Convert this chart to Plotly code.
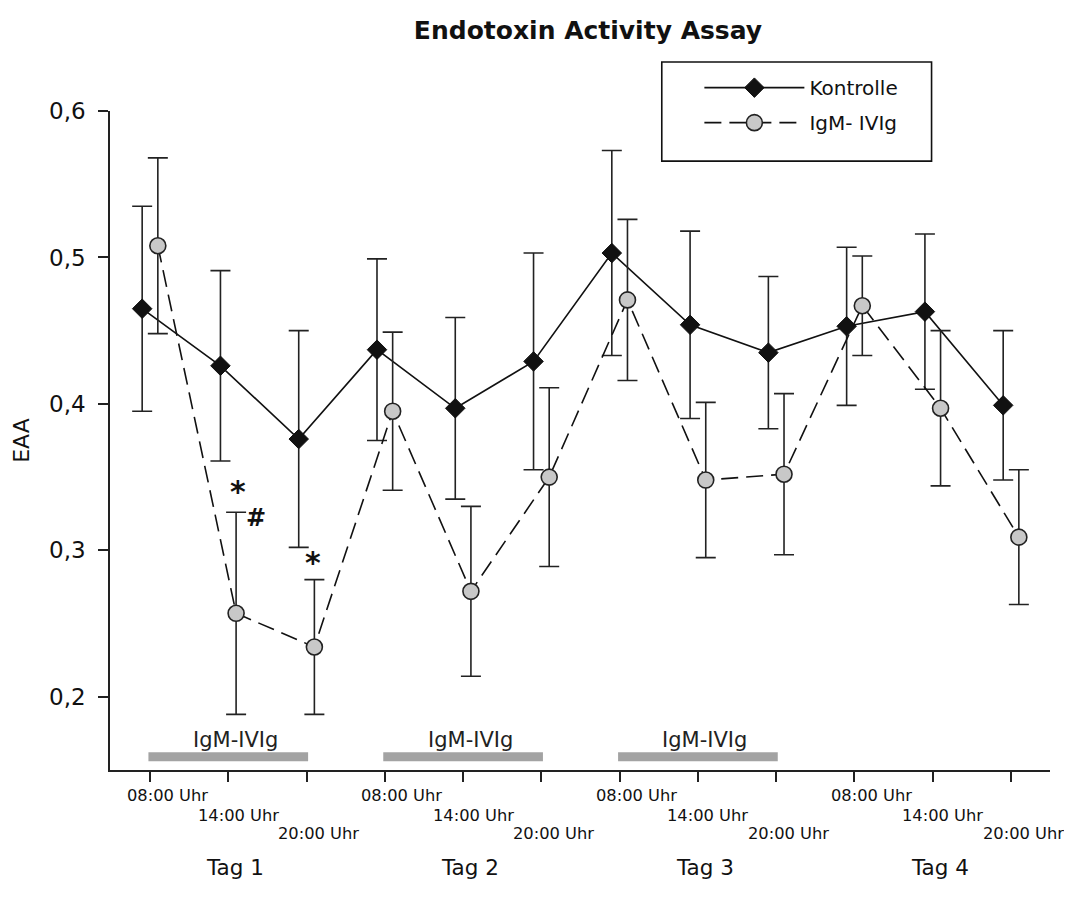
import plotly.graph_objects as go

# ---------------- data ----------------
times = ["08:00 Uhr", "14:00 Uhr", "20:00 Uhr"]
days = ["Tag 1", "Tag 2", "Tag 3", "Tag 4"]
treatment_days = [0, 1, 2]          # days with IgM-IVIg infusion
treatment_label = "IgM-IVIg"

kontrolle = [0.465, 0.426, 0.376, 0.437, 0.397, 0.429, 0.503, 0.454, 0.435, 0.453, 0.463, 0.399]
kontrolle_err = [0.070, 0.065, 0.074, 0.062, 0.062, 0.074, 0.070, 0.064, 0.052, 0.054, 0.053, 0.051]
igm = [0.508, 0.257, 0.234, 0.395, 0.272, 0.350, 0.471, 0.348, 0.352, 0.467, 0.397, 0.309]
igm_err = [0.060, 0.069, 0.046, 0.054, 0.058, 0.061, 0.055, 0.053, 0.055, 0.034, 0.053, 0.046]

# significance markers: (text, x position in time-index units, y value)
sig_marks = [("*", 1.13, 0.340), ("#", 1.35, 0.322), ("*", 2.08, 0.292)]

# ---------------- style ----------------
FONT = "DejaVu Sans"
DARK = "#222222"
n = len(kontrolle)
idx = list(range(n))
off = 0.1
xk = [i - off for i in idx]
xi = [i + off for i in idx]

fig = go.Figure()

fig.add_trace(go.Scatter(
    x=xk, y=kontrolle, name="Kontrolle", mode="lines+markers",
    line=dict(color="#111111", width=1.6),
    marker=dict(symbol="diamond", size=15, color="#111111", line=dict(color="#111111", width=1)),
    error_y=dict(type="data", array=kontrolle_err, visible=True, color=DARK, thickness=1.6, width=10),
    legendgroup="k",
))
fig.add_trace(go.Scatter(
    x=xi, y=igm, name="IgM- IVIg", mode="lines+markers",
    line=dict(color="#111111", width=1.6, dash="17px,8px"),
    marker=dict(symbol="circle", size=16, color="#c8c8c8", line=dict(color=DARK, width=1.6)),
    error_y=dict(type="data", array=igm_err, visible=True, color=DARK, thickness=1.6, width=10),
    legendgroup="i",
))

shapes = []
annotations = []

# treatment bars + labels
for d in treatment_days:
    shapes.append(dict(type="line", xref="x", yref="y", x0=3 * d - 0.02, x1=3 * d + 2.02,
                       y0=0.159, y1=0.159, line=dict(color="#a3a3a3", width=9), layer="above"))
    annotations.append(dict(x=3 * d + 1, y=0.1705, xref="x", yref="y", text=treatment_label,
                            showarrow=False, xshift=7, font=dict(family=FONT, size=21, color="#222")))

# staggered time tick labels
row_shift = [-25, -45, -63]
row_dx = [17, 10, 12]
for i in idx:
    r = i % 3
    annotations.append(dict(x=i, y=0, xref="x", yref="paper", text=times[r], showarrow=False,
                            yanchor="middle", yshift=row_shift[r], xshift=row_dx[r],
                            font=dict(family=FONT, size=16.3, color="#111")))
# day labels
for d, lab in enumerate(days):
    annotations.append(dict(x=3 * d + 1, y=0, xref="x", yref="paper", text=lab, showarrow=False,
                            yanchor="middle", yshift=-97, xshift=7,
                            font=dict(family=FONT, size=21.5, color="#111")))
# significance
for t, x, y in sig_marks:
    annotations.append(dict(x=x, y=y, xref="x", yref="y", text="<b>" + t + "</b>", showarrow=False,
                            font=dict(family=FONT, size=30 if t == "*" else 24, color="#111")))

# legend box
shapes.append(dict(type="rect", xref="paper", yref="paper", x0=0.587, x1=0.874, y0=0.924, y1=1.0744,
                   line=dict(color="#111", width=1.6), fillcolor="rgba(0,0,0,0)"))

W, H = 1064, 899   # page adds an 8px body margin
fig.update_layout(
    width=W, height=H,
    margin=dict(l=102, r=22, t=103, b=137),
    paper_bgcolor="white", plot_bgcolor="white",
    separators=",.",
    font=dict(family=FONT, color="#111"),
    title=dict(text="<b>Endotoxin Activity Assay</b>", x=580 / W, xanchor="center",
               y=1 - 22 / H, yanchor="middle", font=dict(family=FONT, size=25, color="#111")),
    xaxis=dict(range=[-0.511, 11.498], showgrid=False, zeroline=False, showline=True,
               linecolor=DARK, linewidth=1.6, ticks="outside", ticklen=10, tickwidth=1.6,
               tickcolor=DARK, tickvals=idx, showticklabels=False),
    yaxis=dict(range=[0.15, 0.6], showgrid=False, zeroline=False, showline=True,
               linecolor=DARK, linewidth=1.6, ticks="outside", ticklen=10, tickwidth=1.6,
               tickcolor=DARK, tickvals=[0.2, 0.3, 0.4, 0.5, 0.6], tickformat=".1f",
               tickfont=dict(family=FONT, size=23, color="#111"), ticklabelstandoff=8,
               title=dict(text="EAA", standoff=13, font=dict(family=FONT, size=22, color="#111"))),
    showlegend=True,
    legend=dict(x=0.627, y=1.065, xanchor="left", yanchor="top", bgcolor="rgba(0,0,0,0)",
                font=dict(family=FONT, size=20, color="#111"), itemwidth=100,
                tracegroupgap=6, borderwidth=0),
    shapes=shapes, annotations=annotations,
)

fig.write_html("out.html")
